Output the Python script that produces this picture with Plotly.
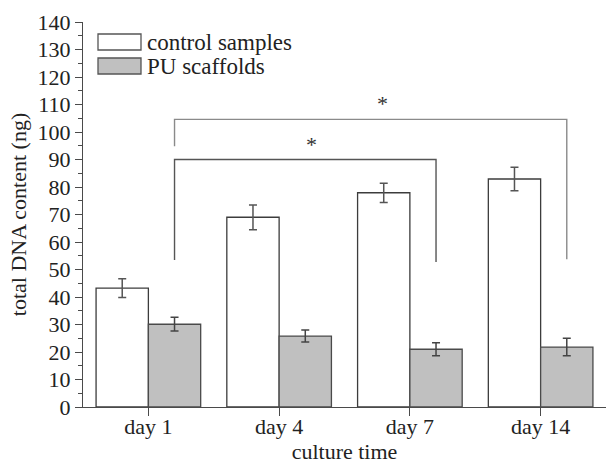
import plotly.graph_objects as go

# total DNA content per culture time (ng), mean and error
days = ["day 1", "day 4", "day 7", "day 14"]
control_mean = [43.2, 69.0, 77.9, 82.9]
control_err = [3.4, 4.5, 3.5, 4.3]
pu_mean = [30.1, 25.8, 21.0, 21.8]
pu_err = [2.5, 2.2, 2.4, 3.2]

# significance brackets: (start bar, end bar, height, left leg bottom, right leg bottom)
brackets = [
    (0.2, 2.2, 90.0, 53.5, 52.7),
    (0.2, 3.2, 104.6, 94.8, 53.7),
]
star_x = [1.25, 1.79]
star_y = [95.5, 110.5]

FONT = "Liberation Serif"
AXIS_COLOR = "#4a4a4a"

fig = go.Figure()
fig.add_trace(go.Bar(
    x=days, y=control_mean, name="control samples",
    marker=dict(color="white", line=dict(color="#3c3c3c", width=1.3)),
    error_y=dict(type="data", array=control_err, color="#555555", thickness=1.5, width=4),
))
fig.add_trace(go.Bar(
    x=days, y=pu_mean, name="PU scaffolds",
    marker=dict(color="#c0c0c0", line=dict(color="#4a4a4a", width=1.3)),
    error_y=dict(type="data", array=pu_err, color="#444444", thickness=1.5, width=4),
))

# brackets drawn in data coordinates
bracket_colors = ["#555555", "#8a8a8a"]
for (x0, x1, h, low0, low1), col in zip(brackets, bracket_colors):
    fig.add_shape(type="path", xref="x", yref="y",
                  path=f"M {x0} {low0} L {x0} {h} L {x1} {h} L {x1} {low1}",
                  line=dict(color=col, width=1.4))

for sx, sy in zip(star_x, star_y):
    fig.add_annotation(x=sx, y=sy, xref="x", yref="y", text="*", showarrow=False,
                       font=dict(family=FONT, size=22, color="#333333"))

# legend swatches and labels
legend_items = [("control samples", "white"), ("PU scaffolds", "#c0c0c0")]
for i, (name, fill) in enumerate(legend_items):
    top = 34 + i * 24
    fig.add_shape(type="rect", xref="paper", yref="paper",
                  x0=(98 - 83) / 523, x1=(141 - 83) / 523,
                  y0=1 - (top + 16 - 22) / 385, y1=1 - (top - 22) / 385,
                  line=dict(color="#555555", width=1.3), fillcolor=fill)
    fig.add_annotation(xref="paper", yref="paper", x=(145 - 83) / 523,
                       y=1 - (top + 8 - 22) / 385, text=name, showarrow=False,
                       xanchor="left", yanchor="middle",
                       font=dict(family=FONT, size=23, color="#222222"))

fig.update_layout(
    width=606, height=465,
    margin=dict(l=83, r=0, t=22, b=58),
    paper_bgcolor="white", plot_bgcolor="white",
    barmode="group", bargap=0.2, bargroupgap=0.0,
    showlegend=False,
    font=dict(family=FONT, size=22, color="#222222"),
)
fig.update_xaxes(
    range=[-0.5, 3.5], showline=True, linecolor=AXIS_COLOR, linewidth=1.3,
    ticks="outside", ticklen=8, tickcolor=AXIS_COLOR, tickwidth=1.3,
    ticklabelstandoff=-9,
    showgrid=False, zeroline=False,
    title=dict(text="culture time", standoff=2, font=dict(size=22)),
    tickfont=dict(size=22),
)
fig.update_yaxes(
    range=[0, 140], dtick=10, showline=True, linecolor=AXIS_COLOR, linewidth=1.3,
    ticks="outside", ticklen=7, tickcolor=AXIS_COLOR, tickwidth=1.3,
    minor=dict(dtick=5, ticks="outside", ticklen=4, tickcolor=AXIS_COLOR, tickwidth=1.1),
    showgrid=False, zeroline=False,
    title=dict(text="total DNA content (ng)", standoff=4, font=dict(size=22)),
    tickfont=dict(size=22),
)

fig.write_html("out.html")
